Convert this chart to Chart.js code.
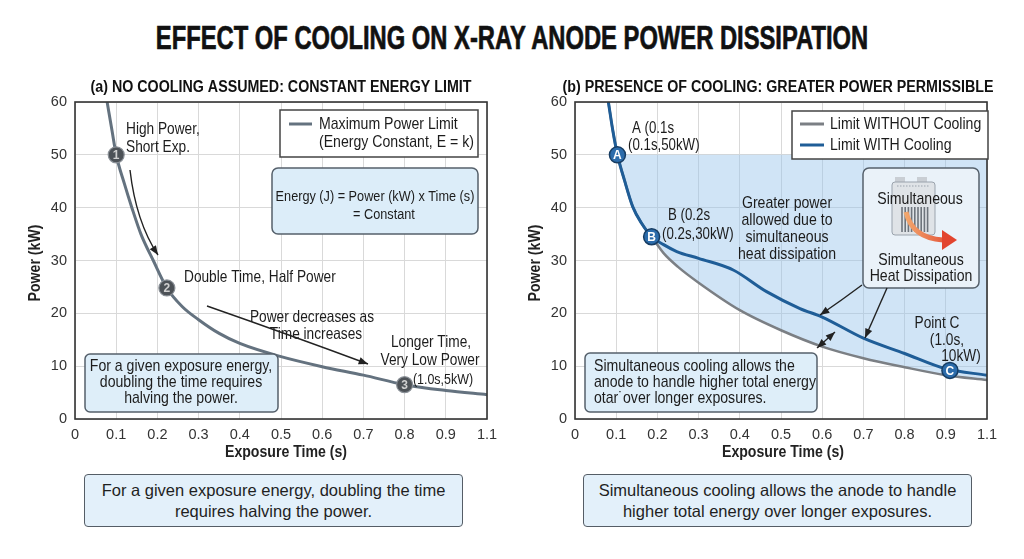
<!DOCTYPE html>
<html>
<head>
<meta charset="utf-8">
<script src="https://cdn.jsdelivr.net/npm/chart.js@4/dist/chart.umd.min.js"></script>
<style>
  body { margin: 0; width: 1024px; height: 559px; background: #fff; position: relative; overflow: hidden;
         font-family: "Liberation Sans", Arial, sans-serif; color: #1a1a1a; }
  #title { position: absolute; left: 0; top: 19px; width: 1024px; text-align: center; font-size: 33px; font-weight: bold;
           color: #111; transform: scaleX(0.72); transform-origin: 512px 0; -webkit-text-stroke: 0.7px #111; white-space: nowrap; }
  .wrap { position: absolute; top: 70px; width: 505px; height: 399px; }
  .note { position: absolute; top: 474px; height: 53px; box-sizing: border-box; border: 1.5px solid #555d66; border-radius: 4px;
          background: #e3f0fa; display: flex; align-items: center; justify-content: center; text-align: center;
          font-size: 16.5px; line-height: 21px; color: #1f1f1f; }
</style>
</head>
<body>
<div id="title">EFFECT OF COOLING ON X-RAY ANODE POWER DISSIPATION</div>
<div class="wrap" style="left:0"><canvas id="chartA"></canvas></div>
<div class="wrap" style="left:500px"><canvas id="chartB"></canvas></div>
<div class="note" style="left:84px; width:379px">For a given exposure energy, doubling the time<br>requires halving the power.</div>
<div class="note" style="left:583px; width:389px">Simultaneous cooling allows the anode to handle<br>higher total energy over longer exposures.</div>
<script>
"use strict";

// tick labels as printed on the reference (1.0 label is missing there)
const xTickLabels = ['0', '0.1', '0.2', '0.3', '0.4', '0.5', '0.6', '0.7', '0.8', '0.9', '1.1'];

// (a) constant energy limit
const limitTime  = [0.078, 0.09, 0.1, 0.12, 0.138, 0.16, 0.19, 0.223, 0.26, 0.3, 0.35, 0.4, 0.5, 0.6, 0.7, 0.8, 0.9, 1.0];
const limitPower = [60, 54.5, 50, 44.5, 40, 35, 30, 24.8, 21.3, 18.8, 16.2, 14.3, 11.8, 9.9, 8.3, 6.5, 5.4, 4.6];
const stepTime   = [0.1, 0.223, 0.8];
const stepPower  = [50, 24.8, 6.5];
const stepLabels = ['1', '2', '3'];

// (b) with / without cooling
const noCoolTime  = [0.081, 0.092, 0.103, 0.12, 0.14, 0.162, 0.186, 0.215, 0.25, 0.3, 0.4, 0.5, 0.6, 0.7, 0.8, 0.9, 1.0];
const noCoolPower = [60, 54.5, 50, 45.2, 40.2, 37, 34.5, 31.4, 28.8, 25.8, 20.6, 16.8, 13.7, 11.5, 9.8, 8.3, 7.4];
const coolTime    = [0.081, 0.092, 0.103, 0.12, 0.14, 0.162, 0.186, 0.215, 0.247, 0.3, 0.384, 0.465, 0.546, 0.6, 0.7, 0.8, 0.9, 1.0];
const coolPower   = [60, 54.5, 50, 45.2, 40.2, 37, 34.5, 33.0, 31.7, 30.4, 28.2, 24.1, 20.9, 19.3, 15.3, 12.4, 9.5, 8.3];
const pointTime   = [0.103, 0.186, 0.91];
const pointPower  = [50, 34.5, 9.2];
const pointLabels = ['A', 'B', 'C'];
const shadeTop = 50;

const FONT = '"Liberation Sans", Arial, sans-serif';
const SX = 0.83;   // horizontal squeeze to mimic the narrow face of the reference
Chart.defaults.font.family = FONT;
Chart.defaults.color = '#333';

function xy(xs, ys) {
    return xs.map((x, i) => ({x: x, y: ys[i]}));
}

function axes() {
    return {
        x: {
            type: 'linear', min: 0, max: 1.0,
            ticks: {stepSize: 0.1, padding: 7, font: {size: 14.5}, color: '#333',
                    callback: (v, i) => xTickLabels[i]},
            grid: {color: '#d9d9d9', drawTicks: false},
            border: {display: false},
            afterFit: s => { s.height = 50; }
        },
        y: {
            min: 0, max: 60,
            ticks: {stepSize: 10, padding: 8, font: {size: 14.5}, color: '#333'},
            grid: {color: '#d9d9d9', drawTicks: false},
            border: {display: false},
            afterFit: s => { s.width = 75; }
        }
    };
}

// ---- small drawing helpers ----
function box(ctx, x, y, w, h, r, fill, stroke) {
    ctx.beginPath();
    ctx.roundRect(x, y, w, h, r);
    ctx.fillStyle = fill;
    ctx.fill();
    ctx.lineWidth = 1.5;
    ctx.strokeStyle = stroke;
    ctx.stroke();
}

function text(ctx, s, x, y, align, size, bold, color, rot) {
    ctx.save();
    ctx.translate(x, y);
    if (rot) ctx.rotate(rot);
    ctx.scale(SX, 1);
    ctx.font = (bold ? 'bold ' : '') + (size || 16.5) + 'px ' + FONT;
    ctx.fillStyle = color || '#1c1c1c';
    ctx.textAlign = align || 'left';
    ctx.textBaseline = 'middle';
    ctx.fillText(s, 0, 0);
    ctx.restore();
}

function head(ctx, x, y, ang, size) {
    ctx.beginPath();
    ctx.moveTo(x, y);
    ctx.lineTo(x - size * Math.cos(ang - 0.38), y - size * Math.sin(ang - 0.38));
    ctx.lineTo(x - size * Math.cos(ang + 0.38), y - size * Math.sin(ang + 0.38));
    ctx.closePath();
    ctx.fill();
}

function arrow(ctx, x1, y1, cx, cy, x2, y2, both) {
    ctx.strokeStyle = '#222';
    ctx.fillStyle = '#222';
    ctx.lineWidth = 1.4;
    ctx.beginPath();
    ctx.moveTo(x1, y1);
    ctx.quadraticCurveTo(cx, cy, x2, y2);
    ctx.stroke();
    head(ctx, x2, y2, Math.atan2(y2 - cy, x2 - cx), 10);
    if (both) head(ctx, x1, y1, Math.atan2(y1 - cy, x1 - cx), 10);
}

function frame(chart) {
    const a = chart.chartArea, ctx = chart.ctx;
    ctx.save();
    ctx.strokeStyle = '#333';
    ctx.lineWidth = 1.6;
    ctx.strokeRect(a.left, a.top, a.right - a.left, a.bottom - a.top);
    ctx.restore();
}

function markerLabels(chart, idx, labels, color) {
    const ctx = chart.ctx;
    chart.getDatasetMeta(idx).data.forEach((p, i) => {
        ctx.font = 'bold 12px ' + FONT;
        ctx.fillStyle = color;
        ctx.textAlign = 'center';
        ctx.textBaseline = 'middle';
        ctx.fillText(labels[i], p.x, p.y + 1);
    });
}

// subtitle and axis titles, drawn squeezed like the reference face
function titles(ctx, sub, cx) {
    text(ctx, sub, cx, 87, 'center', 17.2, true, '#111');
    text(ctx, 'Exposure Time (s)', cx + 5, 452, 'center', 17, true, '#222');
}

const annotA = {
    id: 'annotA',
    afterDatasetsDraw(chart) {
        const ctx = chart.ctx;
        frame(chart);
        markerLabels(chart, 1, stepLabels, '#d0d0d0');
        ctx.save();
        ctx.translate(0, -70);   // page coordinates

        titles(ctx, '(a) NO COOLING ASSUMED: CONSTANT ENERGY LIMIT', 281);
        text(ctx, 'Power (kW)', 35, 263, 'center', 17, true, '#222', -Math.PI / 2);

        text(ctx, 'High Power,', 126, 129);
        text(ctx, 'Short Exp.', 126, 147);
        arrow(ctx, 130, 170, 136, 222, 158, 255);
        text(ctx, 'Double Time, Half Power', 184, 277);
        text(ctx, 'Power decreases as', 312, 317, 'center');
        text(ctx, 'Time increases', 316, 334, 'center');
        arrow(ctx, 207, 306, 290, 335, 368, 364);
        text(ctx, 'Longer Time,', 431, 342, 'center');
        text(ctx, 'Very Low Power', 430, 360, 'center');
        text(ctx, '(1.0s,5kW)', 443, 380, 'center', 15);

        box(ctx, 85, 354, 193, 58, 5, '#deeef9', '#55606b');
        text(ctx, 'For a given exposure energy,', 181, 366, 'center', 17);
        text(ctx, 'doubling the time requires', 181, 382, 'center', 17);
        text(ctx, 'halving the power.', 181, 398, 'center', 17);

        box(ctx, 280, 110, 198, 47, 0, '#ffffff', '#444');
        const ds = chart.data.datasets[0];
        ctx.strokeStyle = ds.borderColor;
        ctx.lineWidth = 3;
        ctx.beginPath(); ctx.moveTo(289, 124); ctx.lineTo(312, 124); ctx.stroke();
        text(ctx, ds.label, 319, 124, 'left', 17);
        text(ctx, '(Energy Constant, E = k)', 319, 142, 'left', 17);

        box(ctx, 272, 168, 206, 66, 6, '#dcedf9', '#55606b');
        text(ctx, 'Energy (J) = Power (kW) x Time (s)', 375, 197, 'center', 15.3);
        text(ctx, '= Constant', 384, 215, 'center', 15.3);
        ctx.restore();
    }
};

const annotB = {
    id: 'annotB',
    afterDatasetsDraw(chart) {
        const ctx = chart.ctx;
        frame(chart);
        markerLabels(chart, 0, pointLabels, '#ffffff');
        ctx.save();
        ctx.translate(-500, -70);   // page coordinates

        titles(ctx, '(b) PRESENCE OF COOLING: GREATER POWER PERMISSIBLE', 778);
        text(ctx, 'Power (kW)', 535, 263, 'center', 17, true, '#222', -Math.PI / 2);

        text(ctx, 'A (0.1s', 632, 129, 'left', 16);
        text(ctx, '(0.1s,50kW)', 628, 146, 'left', 16);
        text(ctx, 'B (0.2s', 668, 216, 'left', 16);
        text(ctx, '(0.2s,30kW)', 662, 235, 'left', 16);
        ['Greater power', 'allowed due to', 'simultaneous', 'heat dissipation'].forEach((s, i) =>
            text(ctx, s, 787, 203 + i * 17, 'center', 17));

        // heat dissipation box with radiator icon
        box(ctx, 863, 168, 116, 120, 6, '#eaf2f9', '#55606b');
        ctx.fillStyle = '#c9ced4';
        ctx.fillRect(895, 177, 10, 6);
        ctx.fillRect(917, 177, 10, 6);
        ctx.fillStyle = '#dfe3e7';
        ctx.strokeStyle = '#9aa3ad';
        ctx.lineWidth = 1;
        ctx.beginPath(); ctx.roundRect(892, 182, 43, 53, 3); ctx.fill(); ctx.stroke();
        ctx.setLineDash([1.5, 1.5]);
        ctx.beginPath(); ctx.moveTo(897, 186); ctx.lineTo(930, 186); ctx.stroke();
        ctx.setLineDash([]);
        ctx.strokeStyle = '#6d747c';
        ctx.lineWidth = 1.6;
        for (let fx = 902; fx <= 928; fx += 3.2) {
            ctx.beginPath(); ctx.moveTo(fx, 207); ctx.lineTo(fx, 232); ctx.stroke();
        }
        text(ctx, 'Simultaneous', 920, 199, 'center', 17);
        const g = ctx.createLinearGradient(905, 0, 956, 0);
        g.addColorStop(0, '#f2a86e');
        g.addColorStop(1, '#e2442e');
        ctx.strokeStyle = g;
        ctx.lineWidth = 5;
        ctx.beginPath(); ctx.moveTo(906, 212); ctx.quadraticCurveTo(912, 238, 943, 240); ctx.stroke();
        ctx.fillStyle = '#e2442e';
        ctx.beginPath(); ctx.moveTo(957, 240); ctx.lineTo(942, 230); ctx.lineTo(942, 250); ctx.closePath(); ctx.fill();
        text(ctx, 'Simultaneous', 921, 260, 'center', 17);
        text(ctx, 'Heat Dissipation', 921, 276, 'center', 17);

        arrow(ctx, 862, 285, 842, 300, 820, 315);
        arrow(ctx, 887, 288, 876, 313, 865, 338);
        arrow(ctx, 817, 348, 826, 340, 835, 332, true);

        text(ctx, 'Point C', 937, 323, 'center', 16.5);
        text(ctx, '(1.0s,', 947, 340, 'center', 16.5);
        text(ctx, '10kW)', 961, 356, 'center', 16.5);

        box(ctx, 585, 353, 232, 59, 5, '#deeef9', '#55606b');
        text(ctx, 'Simultaneous cooling allows the', 594, 366, 'left', 17);
        text(ctx, 'anode to handle higher total energy', 594, 382, 'left', 17);
        text(ctx, 'otar\u02D9over longer exposures.', 594, 398, 'left', 17);

        box(ctx, 792, 111, 196, 48, 0, '#ffffff', '#444');
        [chart.data.datasets[2], chart.data.datasets[1]].forEach((ds, i) => {
            const ly = 124 + i * 21;
            ctx.strokeStyle = ds.borderColor;
            ctx.lineWidth = 3;
            ctx.beginPath(); ctx.moveTo(800, ly); ctx.lineTo(824, ly); ctx.stroke();
            text(ctx, ds.label, 830, ly, 'left', 17);
        });
        ctx.restore();
    }
};

const baseOptions = () => ({
    responsive: true,
    maintainAspectRatio: false,
    animation: false,
    layout: {padding: {left: 0, right: 18, top: 32, bottom: 0}},
    plugins: {
        legend: {display: false},
        tooltip: {enabled: false}
    },
    scales: axes()
});

new Chart(document.getElementById('chartA'), {
    type: 'line',
    data: {
        datasets: [{
            label: 'Maximum Power Limit',
            data: xy(limitTime, limitPower),
            borderColor: '#64727f', borderWidth: 3, pointRadius: 0,
            cubicInterpolationMode: 'monotone', order: 1
        }, {
            label: 'Steps',
            data: xy(stepTime, stepPower),
            showLine: false, pointRadius: 8, pointBackgroundColor: '#4d5257',
            pointBorderColor: '#8a9097', pointBorderWidth: 1.2, order: 0
        }]
    },
    options: baseOptions(),
    plugins: [annotA]
});

const shadeIdx = noCoolTime.indexOf(pointTime[0]);
new Chart(document.getElementById('chartB'), {
    type: 'line',
    data: {
        datasets: [{
            label: 'Points',
            data: xy(pointTime, pointPower),
            showLine: false, pointRadius: 8, pointBackgroundColor: '#2c6cab',
            pointBorderColor: '#173d63', pointBorderWidth: 1.5, order: 0
        }, {
            label: 'Limit WITH Cooling',
            data: xy(coolTime, coolPower),
            borderColor: '#1f5d97', borderWidth: 3, pointRadius: 0,
            cubicInterpolationMode: 'monotone', order: 1
        }, {
            label: 'Limit WITHOUT Cooling',
            data: xy(noCoolTime, noCoolPower),
            borderColor: '#7b7f84', borderWidth: 2.5, pointRadius: 0,
            cubicInterpolationMode: 'monotone', order: 2
        }, {
            label: 'Shade',
            data: xy(noCoolTime.slice(shadeIdx), noCoolPower.slice(shadeIdx)),
            borderWidth: 0, pointRadius: 0, cubicInterpolationMode: 'monotone',
            backgroundColor: 'rgba(150, 196, 236, 0.45)', fill: {value: shadeTop}, order: 3
        }]
    },
    options: baseOptions(),
    plugins: [annotB]
});
</script>
</body>
</html>
